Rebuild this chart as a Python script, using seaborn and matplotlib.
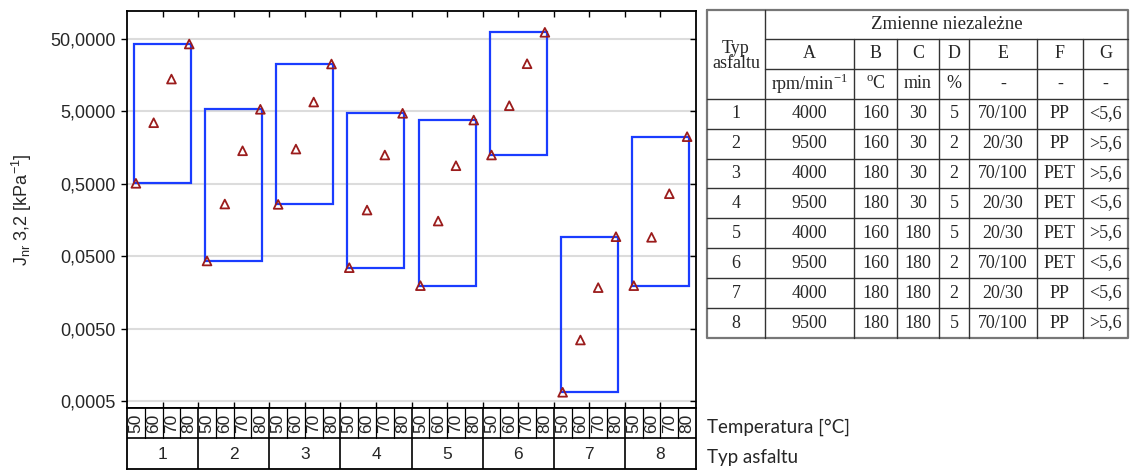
import numpy as np
import pandas as pd
import matplotlib
matplotlib.use('Agg')
import matplotlib.pyplot as plt
import seaborn as sns
from matplotlib.patches import Rectangle
from matplotlib.ticker import FixedLocator, FixedFormatter, NullLocator

# data
typ = [1, 2, 3, 4, 5, 6, 7, 8]
temps = [50, 60, 70, 80]
jnr = [
    [0.508, 3.49, 14.0, 42.7],
    [0.043, 0.263, 1.43, 5.35],
    [0.26, 1.51, 6.74, 22.6],
    [0.0347, 0.217, 1.25, 4.71],
    [0.0196, 0.153, 0.889, 3.80],
    [1.25, 6.0, 22.8, 61.9],
    [0.00066, 0.00348, 0.0184, 0.093],
    [0.0196, 0.0912, 0.365, 2.24],
]
yticks = [0.0005, 0.005, 0.05, 0.5, 5, 50]
ytick_labels = ['0,0005', '0,0050', '0,0500', '0,5000', '5,0000', '50,0000']

# table with the independent variables
tab_cols = ['A', 'B', 'C', 'D', 'E', 'F', 'G']
tab_units = ['rpm/min$^{\\mathregular{-1}}$', '$^{\\mathregular{o}}$C', 'min', '%', '-', '-', '-']
tab_A = ['4000', '9500', '4000', '9500', '4000', '9500', '4000', '9500']
tab_B = ['160', '160', '180', '180', '160', '160', '180', '180']
tab_C = ['30', '30', '30', '30', '180', '180', '180', '180']
tab_D = ['5', '2', '2', '5', '5', '2', '2', '5']
tab_E = ['70/100', '20/30', '70/100', '20/30', '20/30', '70/100', '20/30', '70/100']
tab_F = ['PP', 'PP', 'PET', 'PET', 'PET', 'PET', 'PP', 'PP']
tab_G = ['<5,6', '>5,6', '>5,6', '<5,6', '>5,6', '<5,6', '<5,6', '>5,6']

rows = []
for i, t in enumerate(typ):
    for j, tc in enumerate(temps):
        rows.append({'typ': t, 'temp': tc, 'slot': i * 4 + j, 'jnr': jnr[i][j]})
df = pd.DataFrame(rows)

sns.set_style('white')
plt.rcParams['font.family'] = ['Liberation Sans', 'DejaVu Sans']

W, H = 1131, 471
fig = plt.figure(figsize=(W / 100, H / 100), dpi=100)


def box(x0, y0, x1, y1):
    return [x0 / W, 1 - y1 / H, (x1 - x0) / W, (y1 - y0) / H]


ax = fig.add_axes(box(127, 11, 696, 407.7))
ax_cat = fig.add_axes(box(127, 407.7, 696, 469))

ax.set_yscale('log')
ax.set_ylim(0.000404, 122)
ax.set_xlim(-0.5, len(df) - 0.5)
ax.yaxis.set_major_locator(FixedLocator(yticks))
ax.yaxis.set_major_formatter(FixedFormatter(ytick_labels))
ax.yaxis.set_minor_locator(NullLocator())
ax.grid(axis='y', color='#dcdcdc', linewidth=1.5)
ax.set_axisbelow(True)

# blue boxes spanning min..max of each type
for t, g in df.groupby('typ'):
    lo, hi = g['jnr'].min(), g['jnr'].max()
    x0 = g['slot'].min() - 0.1
    ax.add_patch(Rectangle((x0, lo), g['slot'].max() + 0.1 - x0, hi - lo,
                           fill=False, edgecolor='#1a3cff', linewidth=1.6, zorder=2))

sns.scatterplot(data=df, x='slot', y='jnr', marker='^', s=40, facecolors='none',
                edgecolor='#9b1c1c', linewidth=1.3, ax=ax, zorder=3, legend=False)

ax.set_xlabel('')
ax.set_ylabel('J$_{\\mathregular{nr}}$ 3,2 [kPa$^{\\mathregular{-1}}$]', fontsize=13, labelpad=12)
ax.set_xticks(np.arange(1.5, len(df) - 1, 2))
ax.set_xticklabels([])
ax.tick_params(axis='x', direction='in', top=True, bottom=True, length=4, width=1, color='black')
ax.tick_params(axis='y', which='major', left=True, right=True, length=4, width=1,
               color='black', labelsize=13, pad=4)
for tk in ax.yaxis.get_major_ticks():
    tk.tick2line.set_marker(matplotlib.lines.TICKLEFT)
for s in ax.spines.values():
    s.set_color('black')
    s.set_linewidth(1.3)

# category rows under the plot
ax_cat.set_xlim(ax.get_xlim())
ax_cat.set_ylim(0, 2)
ax_cat.set_xticks([])
ax_cat.set_yticks([])
for s in ax_cat.spines.values():
    s.set_color('black')
    s.set_linewidth(1.3)
ax_cat.axhline(1, color='black', linewidth=1.2)
for k in range(1, len(df)):
    if k % 4 == 0:
        ax_cat.plot([k - 0.5, k - 0.5], [0, 2], color='black', linewidth=1.2)
    else:
        ax_cat.plot([k - 0.5, k - 0.5], [1, 2], color='black', linewidth=0.9)
for slot, temp in zip(df['slot'], df['temp']):
    ax_cat.text(slot, 1.5, str(int(temp)), rotation=90, ha='center', va='center', fontsize=12.5)
for i, t in enumerate(typ):
    ax_cat.text(i * 4 + 1.5, 0.48, str(t), ha='center', va='center', fontsize=12.5)

fig.text(707 / W, 1 - 427 / H, 'Temperatura [°C]', family='Lato', fontsize=13.5, va='center', ha='left')
fig.text(707 / W, 1 - 458 / H, 'Typ asfaltu', family='Lato', fontsize=13.5, va='center', ha='left')

# table
tx = fig.add_axes([0, 0, 1, 1])
tx.set_xlim(0, W)
tx.set_ylim(H, 0)
tx.axis('off')
tx.patch.set_alpha(0)
cx = [707, 765, 854, 897, 939, 969, 1037, 1083, 1128]
ry = [10, 39, 69, 99, 129, 159, 188, 218, 248, 278, 308, 338]
lc = '#333333'
tx.plot([cx[0], cx[-1], cx[-1], cx[0], cx[0]], [ry[0], ry[0], ry[-1], ry[-1], ry[0]], color='#777777', lw=1.6)
tx.plot([cx[1], cx[-1]], [ry[1], ry[1]], color=lc, lw=1)
tx.plot([cx[1], cx[-1]], [ry[2], ry[2]], color=lc, lw=1)
for y in ry[3:-1]:
    tx.plot([cx[0], cx[-1]], [y, y], color=lc, lw=1)
tx.plot([cx[1], cx[1]], [ry[0], ry[-1]], color=lc, lw=1)
for x in cx[2:-1]:
    tx.plot([x, x], [ry[1], ry[-1]], color=lc, lw=1)

serif = 'Liberation Serif'
fs = 13


def mid(a, i):
    return (a[i] + a[i + 1]) / 2


tx.text((cx[1] + cx[-1]) / 2, mid(ry, 0), 'Zmienne niezależne',
        ha='center', va='center', family=serif, fontsize=13.5)
tx.text(mid(cx, 0), 56, 'Typ\nasfaltu', ha='center', va='center', family=serif,
        fontsize=fs, linespacing=0.85)
for j, c in enumerate(tab_cols):
    tx.text(mid(cx, j + 1), mid(ry, 1), c, ha='center', va='center', family=serif, fontsize=fs)
    tx.text(mid(cx, j + 1), mid(ry, 2), tab_units[j], ha='center', va='center', family=serif, fontsize=fs)
cols = [tab_A, tab_B, tab_C, tab_D, tab_E, tab_F, tab_G]
for i, t in enumerate(typ):
    yc = mid(ry, i + 3)
    tx.text(mid(cx, 0), yc, str(t), ha='center', va='center', family=serif, fontsize=fs)
    for j, col in enumerate(cols):
        tx.text(mid(cx, j + 1), yc, col[i], ha='center', va='center', family=serif, fontsize=fs)

fig.savefig('out.png', dpi=100)
